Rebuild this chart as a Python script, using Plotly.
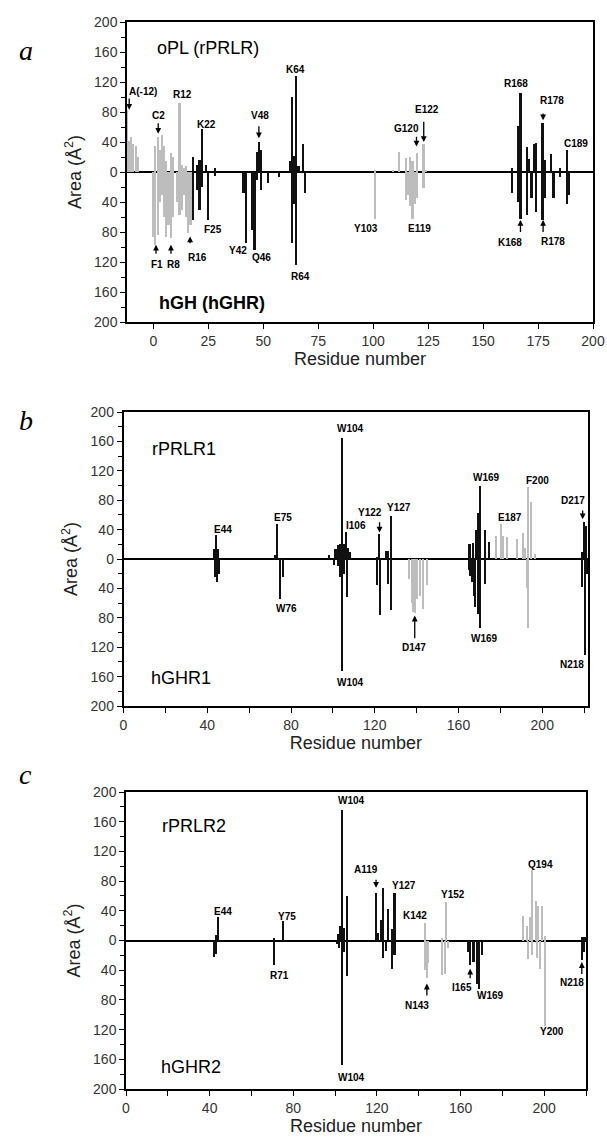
import plotly.graph_objects as go

# ---- panel a: oPL (rPRLR) above, hGH (hGHR) below ----
A_TOP_BLACK_RES = [18, 20, 21, 22, 24, 28, 47, 48, 49, 62, 63, 64, 65, 66, 68,
                   163, 166, 167, 170, 171, 173, 174, 177, 178, 181, 185, 188]
A_TOP_BLACK_VAL = [20, 10, 16, 57, 10, 5, 27, 40, 29, 15, 100, 22, 128, 8, 38,
                   6, 61, 106, 34, 18, 37, 39, 66, 16, 24, 5, 29]
A_TOP_GRAY_RES = [-12, -11, -10, -9, -8, -7, 1, 2, 3, 4, 5, 6, 8, 9, 12, 13, 14, 15,
                  101, 109, 112, 115, 117, 118, 120, 123, 124]
A_TOP_GRAY_VAL = [83, 42, 47, 38, 35, 20, 35, 47, 30, 50, 35, 15, 25, 20, 92, 10, 6, 8,
                  3, 3, 27, 19, 20, 15, 25, 38, 3]
A_BOT_BLACK_RES = [18, 20, 21, 22, 25, 28, 41, 42, 45, 46, 47, 49, 52, 57, 63, 64, 65, 69,
                   163, 166, 167, 170, 172, 174, 177, 178, 182, 185, 188, 189]
A_BOT_BLACK_VAL = [64, 24, 51, 20, 64, 5, 28, 95, 77, 104, 10, 24, 15, 6, 95, 42, 124, 28,
                   28, 40, 62, 57, 35, 53, 64, 35, 35, 6, 42, 31]
A_BOT_GRAY_RES = [0, 1, 2, 3, 4, 5, 6, 7, 8, 9, 11, 12, 13, 14, 15, 16, 17,
                  101, 115, 116, 117, 118, 119, 120, 123]
A_BOT_GRAY_VAL = [86, 97, 84, 40, 30, 60, 86, 70, 88, 60, 40, 57, 50, 30, 60, 81, 70,
                  62, 37, 30, 45, 62, 42, 35, 21]
A_LABELS = [("A(-12)", -4.7, 108), ("C2", 2.3, 75), ("R12", 13.4, 103), ("K22", 24.3, 64),
            ("V48", 48.5, 75), ("K64", 64.5, 137), ("G120", 115.2, 58), ("E122", 124.6, 84),
            ("R168", 165, 118), ("R178", 181.4, 95), ("C189", 192.4, 38),
            ("F1", 1.8, -123), ("R8", 9.1, -123), ("R16", 20, -114), ("F25", 27.3, -76),
            ("Y42", 38.6, -105), ("Q46", 49.3, -114), ("R64", 67, -139), ("Y103", 96.7, -75),
            ("E119", 121.2, -75), ("K168", 162.1, -94), ("R178", 181.8, -92)]
A_ARROWS = [(-11, 100, 83), (2.2, 67, 51), (48, 63, 45), (119.7, 49, 34), (123, 69, 40),
            (177.3, 80, 69), (1.2, -111, -97), (8, -111, -97), (16.7, -97, -86),
            (167, -82, -64), (177.3, -82, -64)]

# ---- panel b: rPRLR1 above, hGHR1 below ----
B_TOP_BLACK_RES = [43, 44, 45, 72, 73, 98, 101, 102, 103, 104, 105, 106, 107, 108,
                   121, 122, 125, 126, 127.5, 165, 166.5, 168, 169, 170, 172.5, 174.5,
                   218.8, 219.5, 220.5]
B_TOP_BLACK_VAL = [13, 32, 13, 5, 47, 6, 14, 19, 20, 164, 20, 37, 15, 9,
                   3, 34, 11, 11, 59, 20, 22, 40, 62, 100, 39, 23,
                   10, 51, 45]
B_TOP_GRAY_RES = [178, 180, 181.3, 183, 187.7, 190.6, 191.7, 193.3, 194.4, 196.5]
B_TOP_GRAY_VAL = [31, 47, 31, 30, 27, 35, 15, 98, 77, 7]
B_BOT_BLACK_RES = [43.5, 44.5, 45.5, 74.5, 75.8, 100.4, 102.4, 103.2, 104, 105, 106.4,
                   120.7, 122.3, 126.3, 127.5, 164.6, 165.4, 166.2, 167, 167.8, 169, 170.2,
                   172.6, 218.8, 220, 220.9]
B_BOT_BLACK_VAL = [25, 31, 20, 54, 24, 8, 10, 25, 153, 20, 52,
                   36, 76, 34, 70, 15, 23, 31, 50, 65, 75, 94,
                   34, 38, 131, 20]
B_BOT_GRAY_RES = [136, 137.5, 138.3, 139.1, 139.9, 141.5, 143, 144.7, 192.5, 193.3]
B_BOT_GRAY_VAL = [27, 60, 72, 74, 54, 50, 68, 36, 40, 94]
B_LABELS = [("E44", 47.7, 40.5), ("E75", 76, 56), ("W104", 108.5, 178), ("I106", 110.9, 46),
            ("Y122", 117.6, 63), ("Y127", 131.4, 70), ("W169", 173.4, 111), ("E187", 184.5, 57),
            ("F200", 197.8, 107), ("D217", 214.5, 80),
            ("W76", 77.7, -67), ("W104", 108.5, -168), ("D147", 138.8, -121),
            ("W169", 172.6, -108), ("N218", 214.1, -143)]
B_ARROWS = [(122.3, 52, 36), (219.3, 68, 54), (139.1, -110, -77)]

# ---- panel c: rPRLR2 above, hGHR2 below ----
C_TOP_BLACK_RES = [43, 44, 70.8, 75, 101.6, 102.4, 103.2, 104.3, 105.6,
                   119.6, 120.7, 121.9, 123.1, 125.2, 127.1, 128.4, 218, 219, 220]
C_TOP_BLACK_VAL = [8, 31, 3, 26, 9, 19, 176, 17, 60,
                   64, 10, 28, 71, 42, 15, 64, 5, 5, 5]
C_TOP_GRAY_RES = [143.1, 151, 153, 190.1, 192, 193.3, 194.4, 196, 197.3, 198.9, 200.5]
C_TOP_GRAY_VAL = [24, 3, 52, 33, 20, 31, 95, 53, 47, 47, 6]
C_BOT_BLACK_RES = [42.3, 43, 70.8, 100.8, 102, 103.2, 104.3, 105.6, 123.1, 124.4, 127.1, 128.4,
                   163.5, 164.6, 166.2, 167.8, 169, 170.2, 218, 219.1]
C_BOT_BLACK_VAL = [22, 18, 33, 5, 10, 168, 16, 48, 24, 14, 38, 20,
                   15, 33, 29, 58, 65, 20, 26, 15]
C_BOT_GRAY_RES = [143.1, 143.9, 144.7, 151, 152.5, 154.1, 192.5, 194.1, 196.5, 198.1, 200.5]
C_BOT_GRAY_VAL = [40, 51, 30, 46, 45, 10, 25, 20, 23, 38, 115]
C_LABELS = [("E44", 46.6, 39.5), ("Y75", 76.9, 33), ("W104", 107.7, 188), ("A119", 114.7, 95),
            ("Y127", 133, 74), ("K142", 138, 34), ("Y152", 156.6, 62), ("Q194", 198.4, 103),
            ("R71", 73.4, -47), ("W104", 107.7, -184), ("N143", 139.1, -87), ("I165", 160.6, -63),
            ("W169", 174.2, -74), ("Y200", 203.7, -123), ("N218", 213.2, -56)]
C_ARROWS = [(119.6, 84, 71), (143.9, -76, -58), (164.6, -53, -38), (218, -47, -29)]

BLACK = "#111111"
GRAY = "#bdbdbd"
FONT = "Liberation Sans, Arial, sans-serif"
W, H = 607, 1142

panels = [
    dict(letter="a", top=(A_TOP_BLACK_RES, A_TOP_BLACK_VAL, A_TOP_GRAY_RES, A_TOP_GRAY_VAL),
         bot=(A_BOT_BLACK_RES, A_BOT_BLACK_VAL, A_BOT_GRAY_RES, A_BOT_GRAY_VAL),
         labels=A_LABELS, arrows=A_ARROWS, xrange=[-12, 200], xticks=list(range(0, 201, 25)), xminor=[],
         box=(127, 593, 22, 322), letter_y=33,
         names=[("oPL (rPRLR)", 25, 165, False), ("hGH (hGHR)", 26.5, -175, True)]),
    dict(letter="b", top=(B_TOP_BLACK_RES, B_TOP_BLACK_VAL, B_TOP_GRAY_RES, B_TOP_GRAY_VAL),
         bot=(B_BOT_BLACK_RES, B_BOT_BLACK_VAL, B_BOT_GRAY_RES, B_BOT_GRAY_VAL),
         labels=B_LABELS, arrows=B_ARROWS, xrange=[0, 222], xticks=list(range(0, 201, 40)),
         xminor=list(range(20, 221, 40)),
         box=(123.5, 588.3, 412, 706), letter_y=420,
         names=[("rPRLR1", 28.7, 149, False), ("hGHR1", 27.5, -162, False)]),
    dict(letter="c", top=(C_TOP_BLACK_RES, C_TOP_BLACK_VAL, C_TOP_GRAY_RES, C_TOP_GRAY_VAL),
         bot=(C_BOT_BLACK_RES, C_BOT_BLACK_VAL, C_BOT_GRAY_RES, C_BOT_GRAY_VAL),
         labels=C_LABELS, arrows=C_ARROWS, xrange=[0, 220], xticks=list(range(0, 201, 40)),
         xminor=list(range(20, 221, 40)),
         box=(126, 586, 792, 1089), letter_y=792,
         names=[("rPRLR2", 32.6, 154, False), ("hGHR2", 31, -170, False)]),
]

fig = go.Figure()
annotations = []
yticks = list(range(-200, 201, 40))
layout = {}

for i, p in enumerate(panels, start=1):
    xa = "x" if i == 1 else f"x{i}"
    ya = "y" if i == 1 else f"y{i}"
    tb_r, tb_v, tg_r, tg_v = p["top"]
    bb_r, bb_v, bg_r, bg_v = p["bot"]
    for res, vals, color, width, sign in [
        (tg_r, tg_v, GRAY, 0.7, 1), (bg_r, bg_v, GRAY, 0.7, -1),
        (tb_r, tb_v, BLACK, 1.0, 1), (bb_r, bb_v, BLACK, 1.0, -1),
    ]:
        fig.add_trace(go.Bar(x=res, y=[sign * v for v in vals], width=width,
                             marker=dict(color=color, line=dict(width=0)),
                             xaxis=xa, yaxis=ya, showlegend=False, hoverinfo="x+y"))

    x0, x1, y0, y1 = p["box"]
    common = dict(showline=True, linecolor="black", linewidth=1.5, mirror=True, automargin=False,
                  ticks="outside", ticklen=5, tickcolor="black", showgrid=False,
                  tickfont=dict(family=FONT, size=14, color="#333"))
    layout["xaxis" if i == 1 else f"xaxis{i}"] = dict(
        domain=[x0 / W, x1 / W], range=p["xrange"], anchor=ya, zeroline=False,
        tickmode="array", tickvals=p["xticks"],
        minor=dict(tickvals=p["xminor"], ticks="outside", ticklen=5, tickcolor="black"),
        title=dict(text="Residue number", font=dict(family=FONT, size=18, color="#222"), standoff=2),
        **common)
    layout["yaxis" if i == 1 else f"yaxis{i}"] = dict(
        domain=[1 - y1 / H, 1 - y0 / H], range=[-200, 200], anchor=xa,
        zeroline=True, zerolinecolor="black", zerolinewidth=1.5,
        tickmode="array", tickvals=yticks, ticktext=[str(abs(v)) for v in yticks],
        minor=dict(tickvals=list(range(-180, 181, 40)), ticks="outside", ticklen=4, tickcolor="black"),
        title=dict(text="Area (Å<sup>2</sup>)", font=dict(family=FONT, size=18, color="#222"), standoff=8),
        **common)

    annotations.append(dict(text=f"<i>{p['letter']}</i>", x=17 / W, y=1 - p["letter_y"] / H,
                            xref="paper", yref="paper", showarrow=False,
                            font=dict(family="Liberation Serif, serif", size=28, color="black")))
    for name, xr, yv, bold in p["names"]:
        annotations.append(dict(text=f"<b>{name}</b>" if bold else name, x=xr, y=yv, xref=xa, yref=ya,
                                showarrow=False, font=dict(family=FONT, size=18, color="black")))
    for name, xr, yv in p["labels"]:
        annotations.append(dict(text=f"<b>{name}</b>", x=xr, y=yv, xref=xa, yref=ya, showarrow=False,
                                font=dict(family=FONT, size=10, color="black")))
    for xr, yfrom, yto in p["arrows"]:
        annotations.append(dict(text="", x=xr, y=yto, ax=xr, ay=yfrom, xref=xa, yref=ya,
                                axref=xa, ayref=ya, showarrow=True, arrowhead=2, arrowsize=0.9,
                                arrowwidth=1.3, arrowcolor="black"))

fig.update_layout(width=W, height=H, margin=dict(l=0, r=0, t=0, b=0, autoexpand=False),
                  paper_bgcolor="white", plot_bgcolor="white", barmode="overlay",
                  bargap=0, annotations=annotations, **layout)

# page body margin would push the fixed-size figure off the window
fig.write_html("out.html", config={"displayModeBar": False},
               post_script="document.body.style.margin='0';")
